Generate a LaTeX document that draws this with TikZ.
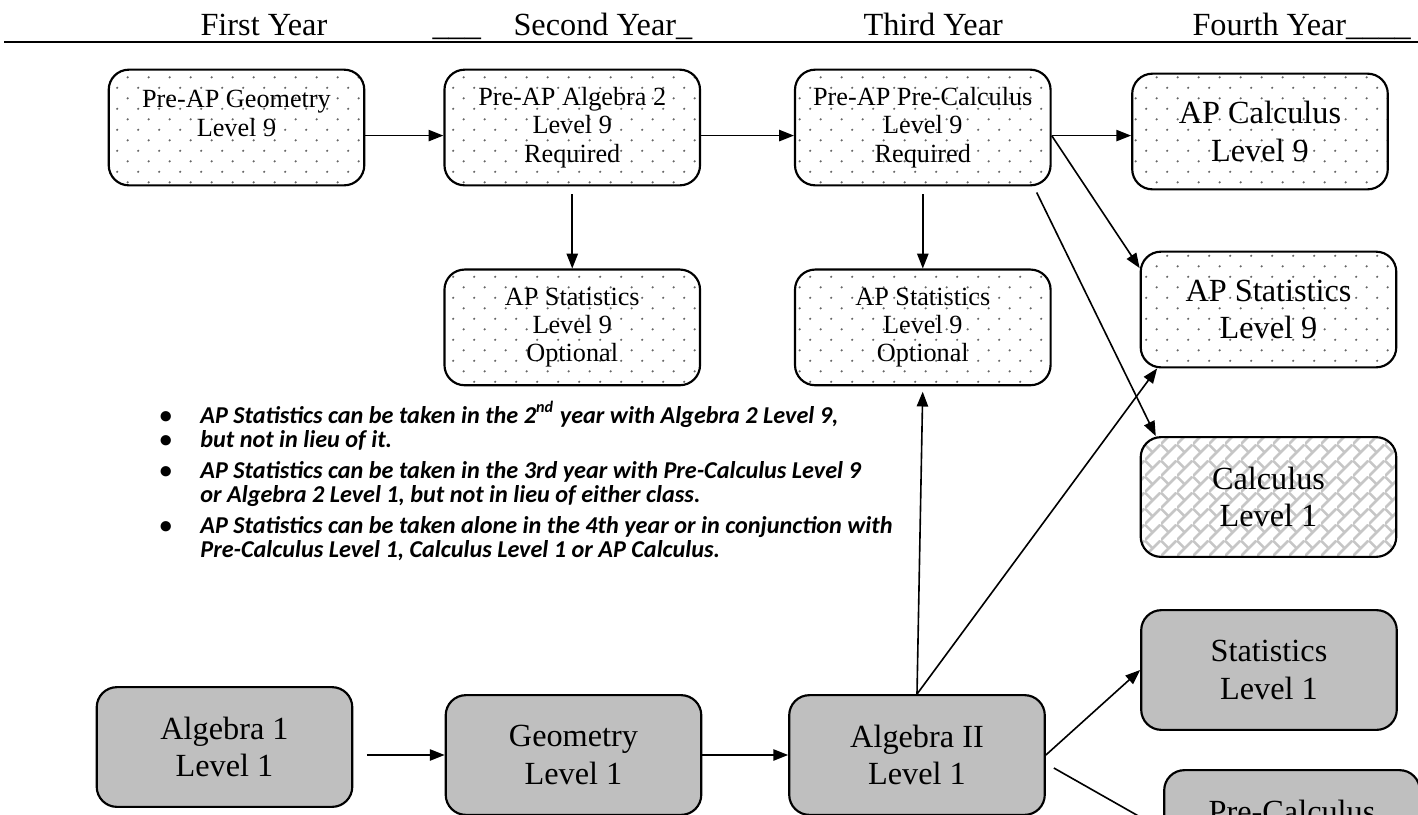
\documentclass[tikz,border=0pt]{standalone}
\usepackage{fontspec}
\setmainfont{Liberation Serif}
\newfontfamily\notefont{Carlito}
\usetikzlibrary{arrows.meta, positioning, calc, patterns.meta}

\tikzdeclarepattern{
  name=sparsedots,
  type=uncolored,
  bounding box={(0pt,0pt) and (7.8pt,7.8pt)},
  tile size={(7.8pt,7.8pt)},
  code={
    \fill (1pt,1pt) circle (0.45pt);
    \fill (4.9pt,4.9pt) circle (0.45pt);
  }
}
\tikzdeclarepattern{
  name=diagbrick,
  type=uncolored,
  bounding box={(0pt,0pt) and (6pt,6pt)},
  tile size={(6pt,6pt)},
  line width=0.5pt,
  code={
    \draw (0pt,0pt) -- (6pt,6pt);
    \draw (0pt,6pt) -- (3pt,3pt);
  }
}

\tikzset{
  course/.style={draw, line width=0.8pt, rounded corners=7.5pt, minimum width=95pt, minimum height=43pt, align=center, inner sep=2pt},
  honors/.style={course, pattern=sparsedots, pattern color=black!60, font=\fontsize{9.75}{10.5}\selectfont},
  honorsbig/.style={honors, font=\fontsize{12}{13.8}\selectfont},
  regular/.style={course, fill=gray!50, minimum height=44.5pt, font=\fontsize{12}{13.8}\selectfont},
  yearlabel/.style={anchor=base west, inner sep=0pt, font=\fontsize{12}{14}\selectfont},
  flow/.style={->, line width=0.6pt},
}

\begin{document}
\begin{tikzpicture}[x=0.3717pt, y=-0.3717pt, >={Triangle[length=5.5pt,width=4.2pt]}]
\useasboundingbox (0,0) rectangle (1418,814);
\clip (0,0) rectangle (1418,814);

% year headings
\node[yearlabel] (year1) at (200,35) {First Year};
\node[yearlabel] (gap2) at (432,35) {\_\_\_};
\node[yearlabel] (year2) at (513,35) {Second Year\_};
\node[yearlabel] (year3) at (863,35) {Third Year};
\node[yearlabel] (year4) at (1192,35) {Fourth Year\_\_\_\_};
\draw[line width=1pt] (4,42) -- (1418,42);

% level 9 track
\node[honors] (geo9) at (236.5,127.5) {Pre-AP Geometry\\Level 9\\~};
\node[honors, right=29pt of geo9] (alg9) {Pre-AP Algebra 2\\Level 9\\Required};
\node[honors, right=34.5pt of alg9] (pre9) {Pre-AP Pre-Calculus\\Level 9\\Required};
\node[honorsbig] (apcalc9) at (1260,131.5) {AP Calculus\\Level 9};
\node[honors, below=30.5pt of alg9] (apstat2) {AP Statistics\\Level 9\\Optional};
\node[honors, below=30.5pt of pre9] (apstat3) {AP Statistics\\Level 9\\Optional};
\node[honorsbig] (apstat4) at (1268.5,309.5) {AP Statistics\\Level 9};
\node[course, pattern=diagbrick, pattern color=gray!45, minimum height=44.5pt, font=\fontsize{12}{13.8}\selectfont] (calc1) at (1268.5,497) {Calculus\\Level 1};

% level 1 track
\node[regular] (alg1) at (224.5,747) {Algebra 1\\Level 1};
\node[regular] (geo1) at (573.5,755) {Geometry\\Level 1};
\node[regular] (alg2) at (917,755) {Algebra II\\Level 1};
\node[regular] (stat1) at (1269,670) {Statistics\\Level 1};
\node[regular] (precalc1) at (1292,830) {Pre-Calculus\\Level 1};

% notes
\node[anchor=base west, inner sep=0pt, font=\notefont\bfseries\itshape\fontsize{9}{8.9}\selectfont] (notes) at (159,423) {%
  \begin{tabular}[t]{@{}p{15.2pt}@{}l@{}}
  \textbullet & AP Statistics can be taken in the 2\textsuperscript{nd} year with Algebra 2 Level 9,\\
  \textbullet & but not in lieu of it.\\[2.5pt]
  \textbullet & AP Statistics can be taken in the 3rd year with Pre-Calculus Level 9\\
              & or Algebra 2 Level 1, but not in lieu of either class.\\[2.5pt]
  \textbullet & AP Statistics can be taken alone in the 4th year or in conjunction with\\
              & Pre-Calculus Level 1, Calculus Level 1 or AP Calculus.
  \end{tabular}};

% connectors
\draw[flow] ([yshift=-3pt]geo9.east) -- ([yshift=-3pt]alg9.west);
\draw[flow] ([yshift=-3pt]alg9.east) -- ([yshift=-3pt]pre9.west);
\draw[flow] ([yshift=-3pt]pre9.east) -- ([yshift=-3pt]pre9.east -| apcalc9.west);
\draw[flow, shorten <=3pt] (alg9.south) -- (apstat2.north);
\draw[flow, shorten <=3pt] (pre9.south) -- (apstat3.north);
\draw[flow] ([yshift=-3pt]pre9.east) -- ([yshift=-6.5pt]apstat4.north west);
\draw[flow] ([shift={(-15,6)}]pre9.south east) -- ([xshift=6pt]calc1.north west);
\draw[flow, shorten >=2pt] (alg2.north) -- (apstat3.south);
\draw[flow] (alg2.north) -- ([xshift=6.5pt]apstat4.south west);
\draw[flow] (alg2.east) -- (stat1.west);
\draw[flow] ([shift={(8,13)}]alg2.east) -- (precalc1.west);
\draw[flow, shorten <=5pt] (alg1.east |- geo1.west) -- (geo1.west);
\draw[flow] (geo1.east) -- (alg2.west);
\end{tikzpicture}
\end{document}
